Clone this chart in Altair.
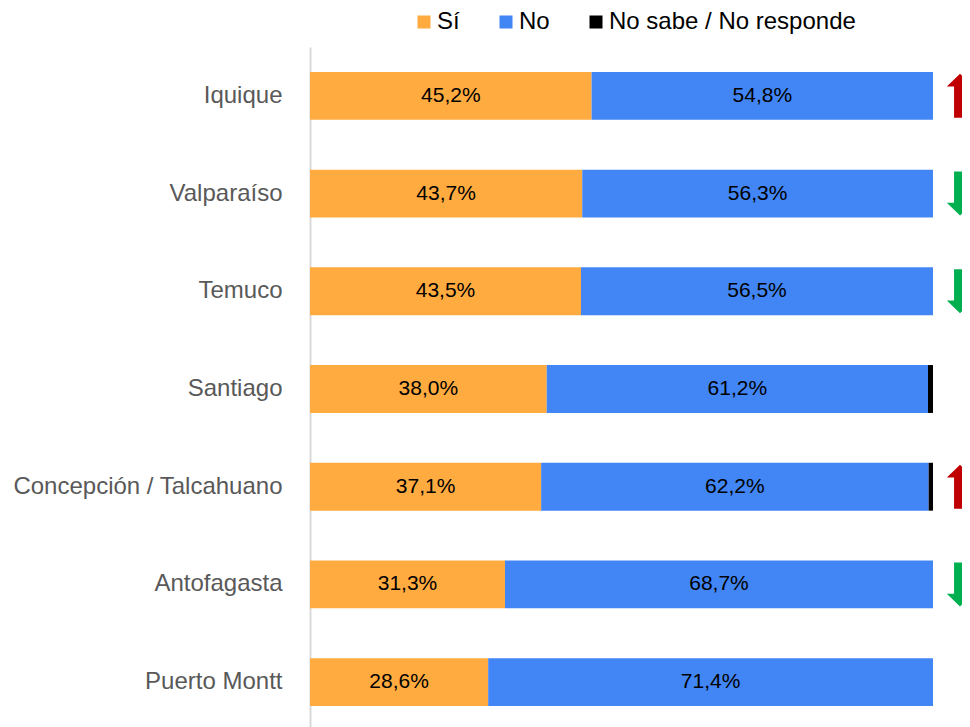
import altair as alt
import pandas as pd

cities = ["Iquique", "Valparaíso", "Temuco", "Santiago",
          "Concepción / Talcahuano", "Antofagasta", "Puerto Montt"]
si = [45.2, 43.7, 43.5, 38.0, 37.1, 31.3, 28.6]
no = [54.8, 56.3, 56.5, 61.2, 62.2, 68.7, 71.4]
ns = [0.0, 0.0, 0.0, 0.8, 0.7, 0.0, 0.0]
trend = ["up", "down", "down", "", "up", "down", ""]
series = ["Sí", "No", "No sabe / No responde"]
colors = ["#FFAB40", "#4285F4", "#000000"]

rows = []
for i, c in enumerate(cities):
    for k, vals in enumerate([si, no, ns]):
        v = vals[i]
        rows.append({"city": c, "serie": series[k], "ord": k, "value": v,
                     "label": f"{v:.1f}%".replace(".", ","), "trend": trend[i]})
df = pd.DataFrame(rows)

UP = "M0,-1 L0.6,-0.42 L0.27,-0.42 L0.27,1 L-0.27,1 L-0.27,-0.42 L-0.6,-0.42 Z"
DOWN = "M0,1 L0.6,0.42 L0.27,0.42 L0.27,-1 L-0.27,-1 L-0.27,0.42 L-0.6,0.42 Z"

FONT = "Liberation Sans"

y = alt.Y("city:N", sort=cities, title=None,
          scale=alt.Scale(paddingInner=0.51, paddingOuter=0.255),
          axis=alt.Axis(labelFontSize=24, labelColor="#595959", labelFont=FONT,
                        labelPadding=28, ticks=False, domainColor="#D9D9D9",
                        domainWidth=2, labelLimit=400, grid=False))

base = alt.Chart(df)

bars = base.mark_bar().encode(
    x=alt.X("value:Q", stack="zero",
            scale=alt.Scale(domain=[0, 100], nice=False), axis=None),
    y=y,
    color=alt.Color("serie:N", scale=alt.Scale(domain=series, range=colors),
                    legend=alt.Legend(title=None, orient="none", direction="horizontal",
                                      legendX=102, legendY=-37, symbolType="square",
                                      symbolSize=169, labelFontSize=24, labelFont=FONT,
                                      labelColor="#000000", columnPadding=34,
                                      labelOffset=1, symbolStrokeWidth=0,
                                      labelLimit=400)),
    order=alt.Order("ord:Q"),
)

text = base.transform_stack(
    stack="value", groupby=["city"], sort=[alt.SortField("ord")], as_=["x0", "x1"]
).transform_calculate(
    mid="(datum.x0 + datum.x1) / 2"
).transform_filter("datum.value > 5").mark_text(
    fontSize=21, font=FONT, color="black"
).encode(
    x=alt.X("mid:Q"),
    y=y,
    text="label:N",
)

arrows = base.transform_filter(
    "datum.ord == 0 && datum.trend != ''"
).mark_point(filled=True, opacity=1, size=44 * 44, strokeWidth=0).encode(
    x=alt.value(650),
    y=y,
    shape=alt.Shape("trend:N", scale=alt.Scale(domain=["up", "down"], range=[UP, DOWN]),
                    legend=None),
    fill=alt.Fill("trend:N", scale=alt.Scale(domain=["up", "down"],
                                             range=["#C00000", "#00B050"]),
                  legend=None),
)

chart = alt.layer(bars, text, arrows).properties(
    width=623, height=684,
    autosize=alt.AutoSizeParams(type="none"),
    padding={"left": 302, "top": 39, "right": 29, "bottom": 0},
).configure_view(strokeWidth=0)

chart.save("out.html", embed_options={"renderer": "svg", "actions": False})
